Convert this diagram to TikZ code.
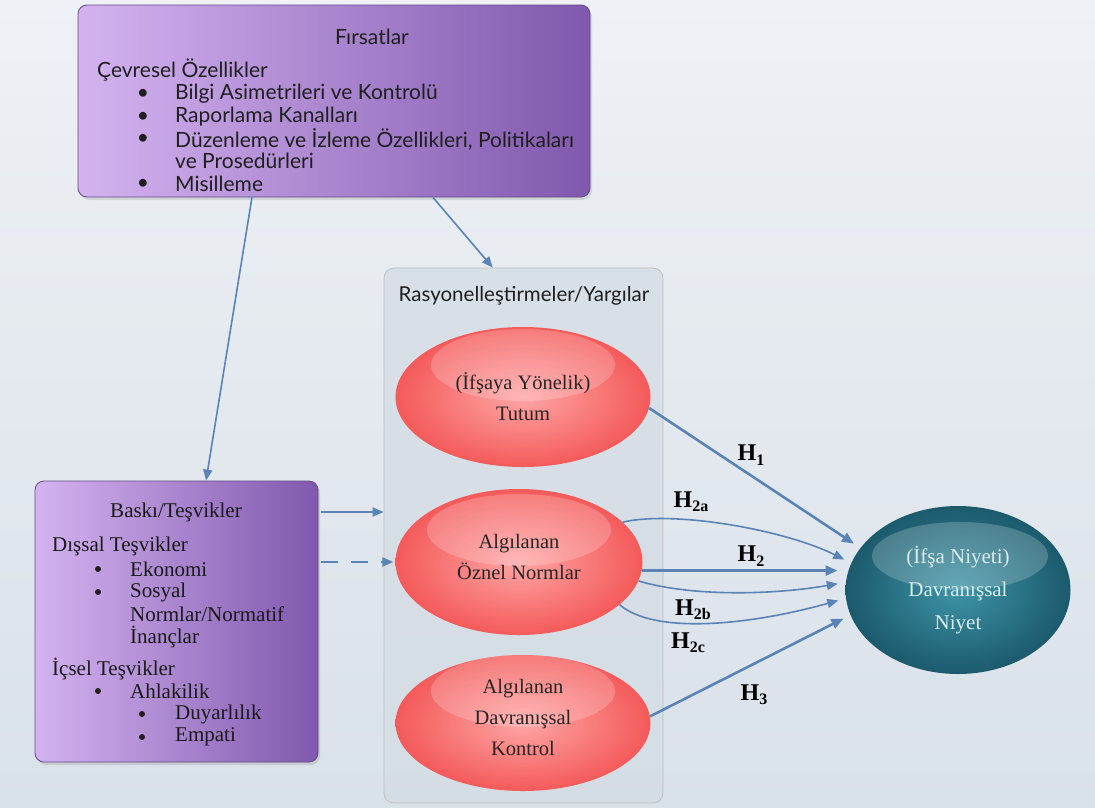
\documentclass[tikz,border=0pt]{standalone}
\usepackage{fontspec}
\setmainfont{Liberation Serif}
\newfontfamily\latofont{Lato}
\usetikzlibrary{arrows.meta,shadows,calc,shapes.geometric}

\definecolor{bgtop}{HTML}{EEF1F5}
\definecolor{bgbot}{HTML}{D9E1E9}
\definecolor{lilaclight}{HTML}{D4B3F0}
\definecolor{lilacdark}{HTML}{8058AE}
\definecolor{lilacedge}{HTML}{654887}
\definecolor{redin}{HTML}{FFA5A5}
\definecolor{redout}{HTML}{F45A5A}
\definecolor{tealin}{HTML}{3E93A7}
\definecolor{tealout}{HTML}{1B5A6C}
\definecolor{arrowblue}{HTML}{5A84B5}
\definecolor{boxgray}{HTML}{D3DBE3}

\newcommand{\hsub}[1]{\textbf{H}\raisebox{-0.4ex}{\fontsize{16}{16}\selectfont\textbf{#1}}}

\tikzset{
  lilacbox/.style={draw=lilacedge, line width=0.8pt, rounded corners=9pt,
    left color=lilaclight, right color=lilacdark,
    drop shadow={opacity=0.22, shadow xshift=2pt, shadow yshift=-3pt}},
  latotext/.style={font=\latofont\fontsize{21}{23}\selectfont, text=black!88,
    inner sep=0pt, anchor=west},
  serifltext/.style={font=\fontsize{21}{23}\selectfont, text=black!90,
    inner sep=0pt, anchor=west},
  seriflbullet/.style={circle, fill=black!88, inner sep=0pt, minimum size=6pt},
  redball/.style={ellipse, inner color=redin, outer color=redout, draw=none},
  tealball/.style={ellipse, inner color=tealin, outer color=tealout, draw=none,
    outer sep=8pt},
  balltext/.style={align=center, font=\fontsize{20.5}{31}\selectfont, text=black!85},
  arr/.style={-{Triangle[length=12pt,width=10pt]}, draw=arrowblue, line width=2.6pt},
  arrthin/.style={-{Triangle[length=11pt,width=9pt]}, draw=arrowblue, line width=1.6pt},
  hlabel/.style={font=\fontsize{24}{24}\selectfont, text=black}
}

\begin{document}
\begin{tikzpicture}[x=1pt, y=-1pt]
  \useasboundingbox (0,0) rectangle (1095,807);
  \fill[top color=bgtop, bottom color=bgbot] (0,0) rectangle (1095,807);

  % Firsatlar
  \node[lilacbox, minimum width=512pt, minimum height=192pt] (firsat) at (334,101) {};
  \node[latotext, anchor=center] (firsattitle) at (372,37) {Fırsatlar};
  \node[latotext] (cevresel) at (97,70) {Çevresel Özellikler};
  \foreach \y/\t in {94/{Bilgi Asimetrileri ve Kontrolü}, 117/{Raporlama Kanalları},
      139/{Düzenleme ve İzleme Özellikleri, Politikaları}, 184/{Misilleme}} {
    \node[latotext, anchor=center] (fb\y) at (143,\y) {\textbullet};
    \node[latotext] (ft\y) at (175,\y) {\t};
  }
  \node[latotext] (ft161) at (175,161) {ve Prosedürleri};

  % Baski/Tesvikler
  \node[lilacbox, minimum width=283pt, minimum height=281pt] (baski) at (176.5,621.5) {};
  \node[serifltext, anchor=center] (baskititle) at (176,512) {Baskı/Teşvikler};
  \node[serifltext] (dissal) at (52,546) {Dışsal Teşvikler};
  \foreach \y/\t in {569/Ekonomi, 592/Sosyal} {
    \node[seriflbullet] (bb\y) at (98,\y) {};
    \node[serifltext] (bt\y) at (130,\y) {\t};
  }
  \node[serifltext] (bt614) at (130,614) {Normlar/Normatif};
  \node[serifltext] (bt637) at (130,637) {İnançlar};
  \node[serifltext] (icsel) at (52,669) {İçsel Teşvikler};
  \node[seriflbullet] (bb691) at (98,691) {};
  \node[serifltext] (bt691) at (130,691) {Ahlakilik};
  \foreach \y/\t in {714/Duyarlılık, 737/Empati} {
    \node[seriflbullet] (bb\y) at (142,\y) {};
    \node[serifltext] (bt\y) at (175,\y) {\t};
  }

  % Rasyonellestirmeler
  \node[draw=black!25, line width=0.8pt, rounded corners=10pt, fill=boxgray, fill opacity=0.7,
    minimum width=279pt, minimum height=535pt] (kap) at (523.5,535.5) {};
  \node[latotext, anchor=center, font=\latofont\fontsize{20.5}{23}\selectfont] (kaptitle)
    at (524,296) {Rasyonelleştirmeler/Yargılar};

  \node[redball, minimum width=255pt, minimum height=140pt] (tutum) at (523,397) {};
  \node[redball, minimum width=247pt, minimum height=146pt] (oznel) at (519,562) {};
  \node[redball, minimum width=255pt, minimum height=136pt] (kontrol) at (523,723) {};
  \node[tealball, minimum width=225pt, minimum height=168pt] (niyet) at (958,590) {};

  % parlak kisimlar
  \foreach \b in {tutum, oznel, kontrol}
    \fill[white, opacity=0.2] ($(\b.center)+(0,-32)$) ellipse [x radius=92pt, y radius=36pt];
  \fill[white, opacity=0.2] ($(niyet.center)+(2,-34)$) ellipse [x radius=88pt, y radius=34pt];

  \node[balltext] (tutumtext) at (tutum) {(İfşaya Yönelik)\\Tutum};
  \node[balltext] (ozneltext) at ($(oznel)+(0,-5)$) {Algılanan\\Öznel Normlar};
  \node[balltext] (kontroltext) at ($(kontrol)+(0,-6)$) {Algılanan\\Davranışsal\\Kontrol};
  \node[balltext, text=white!85!teal, font=\fontsize{21}{33}\selectfont] (niyettext) at (niyet)
    {(İfşa Niyeti)\\Davranışsal\\Niyet};

  % oklar
  \draw[arrthin] ($(firsat.south west)!0.340!(firsat.south east)$)
    -- ($(baski.north west)!0.604!(baski.north east)$);
  \draw[arrthin] ($(firsat.south west)!0.693!(firsat.south east)$)
    -- ($(kap.north west)!0.39!(kap.north east)$);
  \draw[arrthin, line width=2pt, shorten <=3pt] (baski.east |- baskititle) -- (kap.west |- baskititle);
  \draw[arrthin, line width=2.4pt, dashed, dash pattern=on 17pt off 13pt, shorten <=3pt, shorten >=2pt]
    (baski.east |- oznel) -- (oznel.west);

  \draw[arr] (tutum.-5) -- (niyet.156.5);
  \draw[arrthin] (oznel.21) .. controls +(50,-12) and +(-60,-30) .. (niyet.165.7);
  \draw[arr] (oznel.-4) -- (oznel.-4 -| niyet.west);
  \draw[arrthin] (oznel.-9.5) .. controls +(50,15) and +(-70,12) .. (niyet.177.6);
  \draw[arrthin] (oznel.-23) .. controls +(35,30) and +(-90,25) .. (niyet.185.8);
  \draw[arr] (kontrol.3) -- (niyet.194.3);

  \node[hlabel] (h1) at (751,455) {\hsub{1}};
  \node[hlabel] (h2a) at (691,502) {\hsub{2a}};
  \node[hlabel] (h2) at (751,556) {\hsub{2}};
  \node[hlabel] (h2b) at (693,610) {\hsub{2b}};
  \node[hlabel] (h2c) at (688,643) {\hsub{2c}};
  \node[hlabel] (h3) at (754,695) {\hsub{3}};
\end{tikzpicture}
\end{document}
